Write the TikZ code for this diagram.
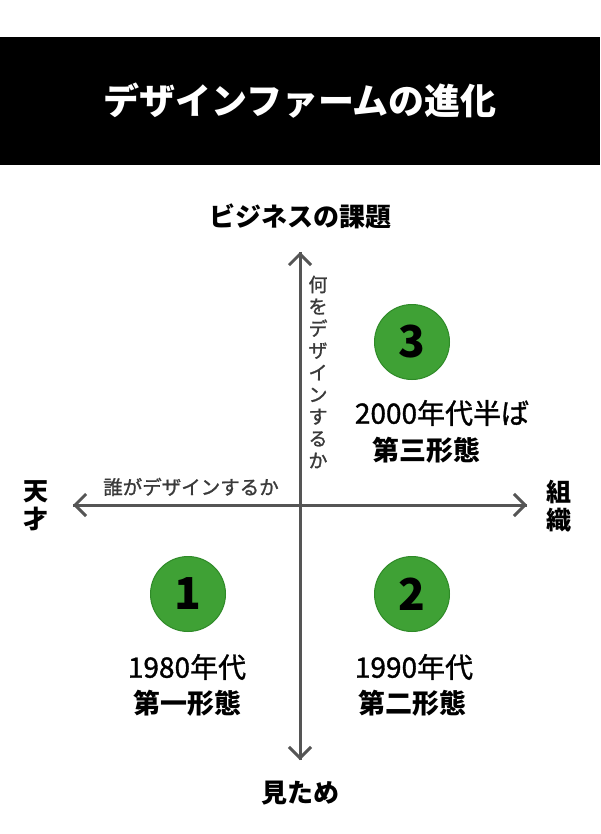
\documentclass[tikz,border=0pt]{standalone}
\usepackage{fontspec}
\setmainfont{Noto Sans CJK JP}
\newfontfamily\medfont[FakeBold=1.2]{Noto Sans CJK JP}
\usetikzlibrary{arrows.meta}
\definecolor{axisgray}{HTML}{555555}
\definecolor{labgray}{HTML}{3A3A3A}
\definecolor{circgreen}{HTML}{3FA135}
\definecolor{circedge}{HTML}{2F8A28}
\tikzset{
  axis/.style={draw=axisgray, line width=3pt, -{Straight Barb[length=11pt,width=22pt,line width=3pt]}},
  numcirc/.style={circle, fill=circgreen, draw=circedge, line width=1pt, minimum size=75pt, inner sep=0pt, font=\fontsize{44}{44}\selectfont\bfseries, text=black},
  poletext/.style={font=\fontsize{26}{30}\selectfont\bfseries, text=black, inner sep=0pt},
  smalltext/.style={font=\fontsize{19.5}{22}\selectfont\medfont, text=labgray, inner sep=0pt},
  yeartext/.style={font=\fontsize{28}{30}\selectfont\medfont, text=black, inner sep=0pt},
  formtext/.style={font=\fontsize{27}{30}\selectfont\bfseries, text=black, inner sep=0pt}
}
\begin{document}
\begin{tikzpicture}[x=1pt,y=-1pt]
\useasboundingbox (0,0) rectangle (600,834);
\fill[white] (0,0) rectangle (600,834);
% title band
\fill[black] (0,37) rectangle (600,165);
\node[font=\fontsize{36}{36}\selectfont\bfseries, text=white, inner sep=0pt] (title) at (300,101) {デザインファームの進化};
% axes
\coordinate (c) at (300,505);
\coordinate (top) at (300,252);
\coordinate (bot) at (300,760);
\coordinate (lft) at (73,505);
\coordinate (rgt) at (527,505);
\draw[axis] (bot) -- (top);
\draw[axis] (top) -- (bot);
\draw[axis] (rgt) -- (lft);
\draw[axis] (lft) -- (rgt);
% pole labels
\node[poletext] (biz) at (300,216) {ビジネスの課題};
\node[poletext] (look) at (300,793) {見ため};
\node[poletext, align=center, font=\fontsize{25}{28}\selectfont\bfseries] (genius) at (36,506) {天\\才};
\node[poletext, align=center, font=\fontsize{25}{28}\selectfont\bfseries] (org) at (559,506) {組\\織};
% axis captions
\node[smalltext] (who) at (191,487) {誰がデザインするか};
\node[smalltext, align=center, font=\fontsize{19}{22}\selectfont\medfont] (what) at (318,372) {何\\を\\デ\\ザ\\イ\\ン\\す\\る\\か};
% circles
\node[numcirc] (n1) at (188,594) {1};
\node[numcirc] (n2) at (412,594) {2};
\node[numcirc] (n3) at (412,342) {3};
% texts
\node[yeartext] (y1) at (187,667) {1980年代};
\node[formtext] (f1) at (187,703) {第一形態};
\node[yeartext] (y2) at (414,667) {1990年代};
\node[formtext] (f2) at (412,703) {第二形態};
\node[yeartext] (y3) at (442,413) {2000年代半ば};
\node[formtext] (f3) at (426,450) {第三形態};
\end{tikzpicture}
\end{document}
